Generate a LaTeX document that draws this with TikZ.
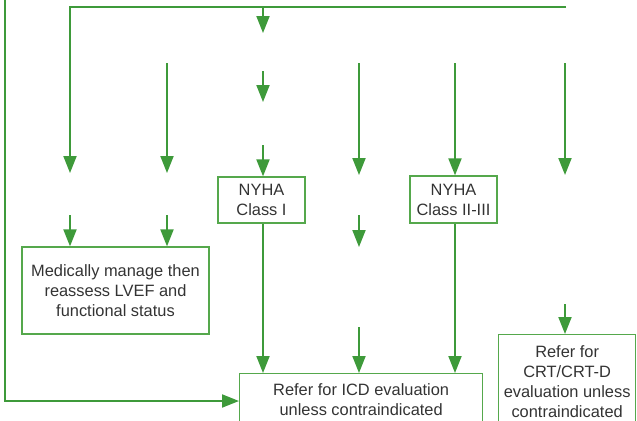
\documentclass[tikz,border=0pt]{standalone}
\usepackage{fontspec}
\setmainfont{Liberation Sans}
\usetikzlibrary{arrows.meta}
\definecolor{flowgreen}{HTML}{3E9A3A}
\definecolor{boxgreen}{HTML}{55A84C}
\definecolor{txtgray}{HTML}{333333}
\tikzset{
  flow/.style={draw=flowgreen, line width=2bp},
  arr/.style={flow, -{Triangle[length=17bp, width=13bp]}},
  box/.style={draw=boxgreen, line width=1.3bp, align=center, inner sep=0pt,
    text=txtgray, font=\fontsize{16.4bp}{20bp}\selectfont},
}
\begin{document}
\begin{tikzpicture}[x=1bp, y=-1bp]
\useasboundingbox (0,0) rectangle (637,420);
% boxes
\node[box, minimum width=187bp, minimum height=87bp] (manage) at (115.5,290.5)
  {Medically manage then\\reassess LVEF and\\functional status};
\node[box, minimum width=87bp, minimum height=46bp] (nyhaI) at (261.5,200)
  {NYHA\\Class I};
\node[box, minimum width=87bp, minimum height=47bp] (nyhaII) at (453.5,199.5)
  {NYHA\\Class II-III};
\node[box, minimum width=243bp, minimum height=51bp, anchor=north west] (icd) at (239,373)
  {Refer for ICD evaluation\\unless contraindicated};
\node[box, minimum width=137bp, minimum height=94bp, anchor=north west] (crt) at (498,334)
  {Refer for\\CRT/CRT-D\\evaluation unless\\contraindicated};
% coordinates
\coordinate (topR) at (566,7);
\coordinate (topL) at (70,7);
\coordinate (tipA) at (70,173);
\coordinate (top263) at (263,7);
\coordinate (tip263a) at (263,33);
\coordinate (s263b) at (263,71);
\coordinate (tip263b) at (263,102);
\coordinate (s263c) at (263,145);
\coordinate (s167) at (167,63);
\coordinate (tip167) at (167,173);
\coordinate (s359) at (359,63);
\coordinate (tip359) at (359,175);
\coordinate (s455) at (455,63);
\coordinate (s565) at (565,63);
\coordinate (tip565) at (565,175);
\coordinate (s70b) at (70,215);
\coordinate (s167b) at (167,215);
\coordinate (s359b) at (359,215);
\coordinate (tip359b) at (359,247);
\coordinate (s359c) at (359,327);
\coordinate (s565b) at (565,304);
\coordinate (leftT) at (5,0);
\coordinate (leftB) at (5,401);
% connectors
\draw[arr] (topR) -- (topL) -- (tipA);
\draw[arr] (top263) -- (tip263a);
\draw[arr] (s263b) -- (tip263b);
\draw[arr] (s263c) -- (nyhaI.north -| s263c);
\draw[arr] (s167) -- (tip167);
\draw[arr] (s359) -- (tip359);
\draw[arr] (s455) -- (nyhaII.north -| s455);
\draw[arr] (s565) -- (tip565);
\draw[arr] (s70b) -- (manage.north -| s70b);
\draw[arr] (s167b) -- (manage.north -| s167b);
\draw[arr] (s359b) -- (tip359b);
\draw[arr] (nyhaI.south -| s263c) -- (icd.north -| s263c);
\draw[arr] (s359c) -- (icd.north -| s359c);
\draw[arr] (nyhaII.south -| s455) -- (icd.north -| s455);
\draw[arr] (s565b) -- (crt.north -| s565b);
\draw[arr] (leftT) -- (leftB) -- (icd.west |- leftB);
\end{tikzpicture}
\end{document}
